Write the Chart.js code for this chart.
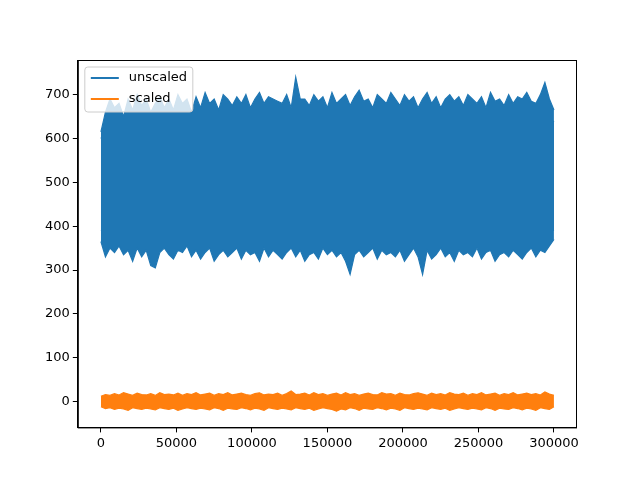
<!DOCTYPE html><html><head><script src="https://cdn.jsdelivr.net/npm/chart.js@4"></script>
<style>body{margin:0;background:#fff}#w{width:640px;height:480px}</style></head><body><div id="w"><canvas id="c"></canvas></div>
<script>
const sampleStep = 3000;
const seriesNames = ["unscaled","scaled"];
// upper / lower envelopes of the dense signals
const unscaledHigh = [615,660,690,670,680,650,690,665,700,675,690,660,680,695,670,690,665,700,680,690,
 660,695,670,705,680,690,665,700,690,675,695,680,700,670,690,705,680,695,690,685,
 680,700,670,740,690,690,675,700,685,695,670,705,680,690,700,675,695,710,685,690,
 670,700,690,680,705,690,675,700,685,695,670,690,705,680,695,670,690,700,685,695,
 675,700,690,680,695,670,705,685,690,675,700,680,695,690,705,685,680,700,728,690,665];
const unscaledLow = [365,330,350,340,355,335,345,320,350,330,345,310,305,340,350,335,325,345,340,355,
 330,345,325,340,350,320,335,345,330,340,350,325,345,335,340,320,350,330,345,335,
 325,340,350,330,345,320,335,340,325,350,335,345,330,340,320,290,335,345,330,340,
 350,325,345,335,340,330,345,320,335,350,330,290,345,325,335,350,330,340,320,345,
 335,340,330,350,325,340,345,320,335,340,330,345,335,325,340,350,330,345,340,355,370];
const unscaledCoreHigh = [600,620,625,630,620,625,630,620,630,625,620,630,625,620,630,625,630,620,625,630,
 625,630,620,625,630,625,620,630,625,630,620,625,630,625,620,630,625,630,620,625,
 630,625,620,630,625,630,620,625,630,625,620,630,625,630,620,625,630,625,620,630,
 625,630,620,625,630,625,620,630,625,630,620,625,630,625,620,630,625,630,620,625,
 630,625,620,630,625,630,620,625,630,625,620,630,625,630,620,625,630,625,620,630,640];
const unscaledCoreLow = [390,395,400,395,400,390,395,400,395,390,400,395,390,400,395,400,390,395,400,395,
 390,400,395,390,400,395,400,390,395,400,395,390,400,395,390,400,395,400,390,395,
 400,395,390,400,395,390,400,395,400,390,395,400,395,390,400,395,390,400,395,400,
 390,395,400,395,390,400,395,390,400,395,400,390,395,400,395,390,400,395,400,390,
 395,400,390,395,400,395,390,400,395,400,390,395,400,395,390,400,395,400,390,395,390];
const scaledHigh = [12,16,14,18,15,20,17,14,19,16,15,18,14,20,16,17,15,19,14,18,
 16,20,15,17,19,14,18,16,20,15,17,19,16,14,18,20,15,17,16,19,
 14,18,24,16,17,19,15,20,16,18,14,17,19,15,20,16,18,14,17,19,
 16,15,20,17,18,14,19,16,15,18,20,17,14,19,16,18,15,20,17,16,
 19,14,18,16,20,15,17,19,14,18,16,20,15,17,19,16,18,15,22,17,14];
const scaledLow = [-12,-16,-14,-18,-15,-17,-20,-14,-16,-18,-15,-17,-19,-14,-16,-18,-15,-20,-17,-14,
 -16,-18,-15,-17,-19,-14,-16,-20,-15,-17,-18,-14,-16,-19,-15,-17,-20,-14,-16,-18,
 -15,-17,-19,-14,-16,-18,-15,-20,-17,-14,-16,-18,-22,-17,-19,-14,-16,-20,-15,-17,
 -18,-14,-16,-19,-15,-17,-20,-14,-16,-18,-15,-17,-19,-14,-16,-18,-15,-20,-17,-14,
 -16,-18,-15,-17,-19,-14,-16,-20,-15,-17,-18,-14,-16,-19,-15,-17,-20,-14,-16,-18,-12];
const xTicks=[0,50000,100000,150000,200000,250000,300000];
const yTicks=[0,100,200,300,400,500,600,700];
const colors=['#1f77b4','#ff7f0e'];
const toPts=a=>a.map((v,i)=>({x:i*sampleStep,y:v}));
const ds=(arr,col,fill)=>({data:toPts(arr),borderColor:col,backgroundColor:col,borderWidth:1.2,pointRadius:0,tension:0,fill:fill});
const frame={id:'frame',afterDraw(ch){const a=ch.chartArea,c=ch.ctx;c.save();c.strokeStyle='#000';c.lineWidth=1;
 c.strokeRect(a.left+0.5,a.top+0.5,a.right-a.left,a.bottom-a.top);
 const x=a.left+7,y=a.top+7;c.fillStyle='rgba(255,255,255,0.8)';c.strokeStyle='#ccc';
 c.beginPath();c.roundRect(x,y,108,45,3);c.fill();c.stroke();
 c.font='13px "DejaVu Sans"';c.textBaseline='middle';
 seriesNames.forEach((n,i)=>{const yy=y+11+i*21;c.strokeStyle=colors[i];c.lineWidth=2;c.beginPath();c.moveTo(x+6,yy);c.lineTo(x+34,yy);c.stroke();
 c.fillStyle='#000';c.fillText(n,x+44,yy);});c.restore();}};
const tk={color:'#000',font:{family:'DejaVu Sans',size:13}};
new Chart(document.getElementById('c'),{type:'line',
 data:{datasets:[ds(unscaledHigh,colors[0],false),ds(unscaledLow,colors[0],'-1'),
   ds(unscaledCoreHigh,colors[0],false),ds(unscaledCoreLow,colors[0],'-1'),
   ds(scaledHigh,colors[1],false),ds(scaledLow,colors[1],'-1')]},
 options:{responsive:true,maintainAspectRatio:false,animation:false,
 layout:{padding:{left:42,right:64,top:60,bottom:26}},
 plugins:{legend:{display:false},tooltip:{enabled:false},filler:{propagate:false}},
 scales:{x:{type:'linear',min:-15300,max:314600,afterBuildTicks:s=>{s.ticks=xTicks.map(v=>({value:v}))},
   ticks:{...tk,callback:v=>String(v),maxRotation:0},grid:{drawOnChartArea:false,tickLength:5,color:'#000'},border:{color:'#000'}},
  y:{min:-59,max:779,afterBuildTicks:s=>{s.ticks=yTicks.map(v=>({value:v}))},
   ticks:tk,grid:{drawOnChartArea:false,tickLength:5,color:'#000'},border:{color:'#000'}}}},
 plugins:[frame]});
</script></body></html>
